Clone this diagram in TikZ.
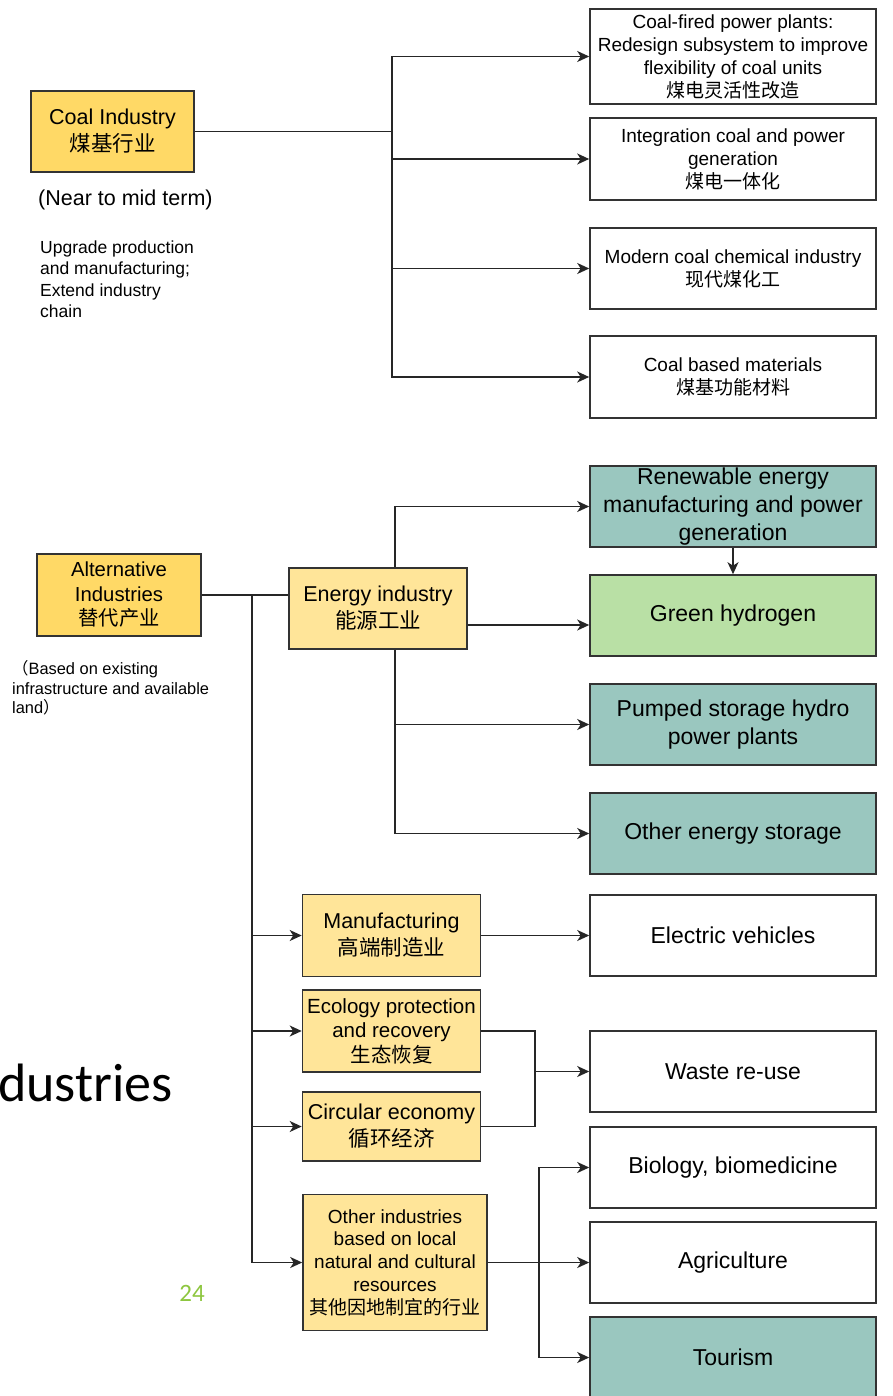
\documentclass[tikz,border=0pt]{standalone}
\usepackage{fontspec}
\setmainfont{Liberation Sans}
\newfontfamily\cjk{Noto Sans CJK SC}
\newfontfamily\calib{Carlito}
\usetikzlibrary{arrows.meta}
\definecolor{yA}{HTML}{FFD966}
\definecolor{yB}{HTML}{FFE599}
\definecolor{tealbox}{HTML}{9AC7BF}
\definecolor{grnbox}{HTML}{B9E0A5}
\definecolor{edgec}{HTML}{333333}
\definecolor{pgc}{HTML}{8DC63F}
\newcommand{\zh}[1]{{\cjk #1}}
\begin{document}
\begin{tikzpicture}[x=1pt,y=-1pt,
  box/.style={draw=edgec, line width=1.6pt, align=center, inner sep=0pt},
  conn/.style={line width=1.7pt, draw=black!85},
  arr/.style={conn, -{Stealth[length=12pt,width=11pt,inset=3.5pt]}},
  fbig/.style={font=\fontsize{21.5}{27}\selectfont},
  fmid/.style={font=\fontsize{19}{23}\selectfont},
  fright/.style={font=\fontsize{23}{28}\selectfont},
  rbox/.style={box, minimum width=286pt, minimum height=81pt},
  lbox/.style={box, fill=yB, minimum width=178pt},
]
\useasboundingbox (0,0) rectangle (892,1396);
\clip (0,0) rectangle (892,1396);

% ---------- Coal part ----------
\node[box, fill=yA, minimum width=163pt, minimum height=81pt, fbig] (coal) at (112.5,131.5) {Coal Industry\\\zh{煤基行业}};
\node[anchor=west, inner sep=0pt, font=\fontsize{21.5}{26}\selectfont] (near) at (38,200) {(Near to mid term)};
\node[anchor=west, align=left, inner sep=0pt, font=\fontsize{17.5}{21.5}\selectfont] (upg) at (40,279) {Upgrade production\\and manufacturing;\\Extend industry\\chain};

\node[rbox, minimum height=95pt, fmid] (c1) at (733,56.5) {Coal-fired power plants:\\Redesign subsystem to improve\\flexibility of coal units\\\zh{煤电灵活性改造}};
\node[rbox, minimum height=82pt, fmid] (c2) at (733,159) {Integration coal and power\\generation\\\zh{煤电一体化}};
\node[rbox, fmid] (c3) at (733,268.5) {Modern coal chemical industry\\\zh{现代煤化工}};
\node[rbox, minimum height=82pt, fmid] (c4) at (733,377) {Coal based materials\\\zh{煤基功能材料}};

\coordinate (cj) at (392,131.5);
\draw[conn] (coal.east) -- (cj);
\draw[arr] (cj) |- (c1.west);
\draw[arr] (cj) |- (c2.west);
\draw[arr] (cj) |- (c3.west);
\draw[arr] (cj) |- (c4.west);

% ---------- Alternative part ----------
\node[box, fill=yA, minimum width=164pt, minimum height=82pt, font=\fontsize{20.3}{24.5}\selectfont] (alt) at (119,595) {Alternative\\Industries\\\zh{替代产业}};
\node[anchor=west, align=left, inner sep=0pt, font=\fontsize{16.4}{19.7}\selectfont] (based) at (12,688) {\zh{（}Based on existing\\infrastructure and available\\land\zh{）}};

\node[lbox, minimum height=81pt, fbig] (en) at (378,608.5) {Energy industry\\\zh{能源工业}};

\node[rbox, fill=tealbox, fright] (r1) at (733,506.5) {Renewable energy\\manufacturing and power\\generation};
\node[rbox, fill=grnbox, fright] (gh) at (733,615.5) {Green hydrogen};
\node[rbox, fill=tealbox, fright] (ps) at (733,724.5) {Pumped storage hydro\\power plants};
\node[rbox, fill=tealbox, fright] (os) at (733,833.5) {Other energy storage};
\node[rbox, fright] (ev) at (733,935.5) {Electric vehicles};
\node[rbox, fright] (ws) at (733,1071.5) {Waste re-use};
\node[rbox, fright] (bio) at (733,1167.5) {Biology, biomedicine};
\node[rbox, fright] (agri) at (733,1262.5) {Agriculture};
\node[rbox, fill=tealbox, fright] (tour) at (733,1357.5) {Tourism};

\node[lbox, minimum height=82pt, fbig] (mfg) at (391.5,935.5) {Manufacturing\\\zh{高端制造业}};
\node[lbox, minimum height=82pt, font=\fontsize{20.5}{24.5}\selectfont] (eco) at (391.5,1031) {Ecology protection\\and recovery\\\zh{生态恢复}};
\node[lbox, minimum height=69pt, fbig] (circ) at (391.5,1126.5) {Circular economy\\\zh{循环经济}};
\node[box, fill=yB, minimum width=184pt, minimum height=136pt, font=\fontsize{19}{22.8}\selectfont] (oth) at (395,1262.5) {Other industries\\based on local\\natural and cultural\\resources\\\zh{其他因地制宜的行业}};

% connectors
\coordinate (tj) at (252,595);
\draw[conn] (alt.east) -- (alt.east -| en.west);
\draw[arr] (tj) |- (mfg.west);
\draw[arr] (tj) |- (eco.west);
\draw[arr] (tj) |- (circ.west);
\draw[arr] (tj) |- (oth.west);

\draw[arr] ([xshift=17pt]en.north) |- (r1.west);
\draw[arr] ([yshift=-16.5pt]en.east) -- ([yshift=-16.5pt]en.east -| gh.west);
\draw[arr] ([xshift=17pt]en.south) |- (ps.west);
\draw[arr] ([xshift=17pt]en.south) |- (os.west);
\draw[arr] (r1.south) -- (gh.north);

\draw[arr] (mfg.east) -- (ev.west);

\coordinate (wj) at (535,1071.5);
\draw[conn] (eco.east) -| (wj);
\draw[conn] (circ.east) -| (wj);
\draw[arr] (wj) -- (ws.west);

\coordinate (oj) at (539,1262.5);
\draw[conn] (oth.east) -- (oj);
\draw[arr] (oj) |- (bio.west);
\draw[arr] (oj) -- (agri.west);
\draw[arr] (oj) |- (tour.west);

% slide remnants
\node[anchor=base east, inner sep=0pt, font=\calib\fontsize{54}{64}\selectfont] (ttl) at (173,1101) {Industries};
\node[inner sep=0pt, text=pgc, font=\calib\fontsize{25}{30}\selectfont] (pn) at (192,1293) {24};
\end{tikzpicture}
\end{document}
